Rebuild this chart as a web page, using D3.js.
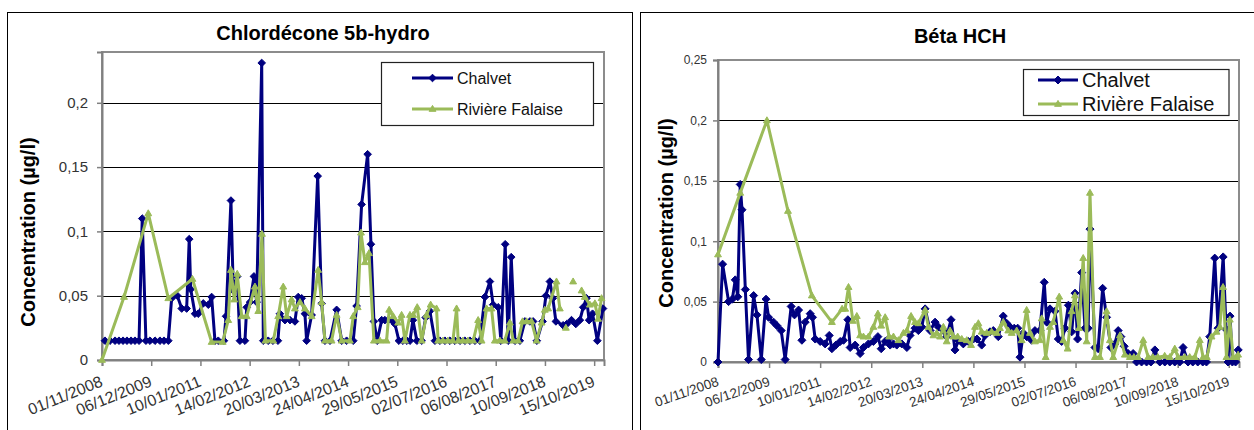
<!DOCTYPE html>
<html><head><meta charset="utf-8">
<script src="https://cdn.jsdelivr.net/npm/d3@7"></script>
<style>body{margin:0;background:#fff}svg{display:block}</style>
</head><body>
<svg id="c" width="1254" height="430"></svg>
<script>
// ---------- DATA ----------
const xDomain = ["2008-11-01", "2020-01-03"];
const xTickLabels = ["01/11/2008","06/12/2009","10/01/2011","14/02/2012","20/03/2013","24/04/2014","29/05/2015","02/07/2016","06/08/2017","10/09/2018","15/10/2019"];
const seriesNames = ["Chalvet", "Rivière Falaise"];

const leftTitle = "Chlordécone 5b-hydro";
const leftYTicks = [0, 0.05, 0.1, 0.15, 0.2];
const leftYTickLabels = ["0", "0,05", "0,1", "0,15", "0,2"];
const leftChalvetDates = ["2008-11-25","2009-01-05","2009-02-15","2009-03-19","2009-04-21","2009-05-23","2009-06-25","2009-07-27","2009-08-29","2009-09-24","2009-10-24","2009-11-26","2010-01-06","2010-02-15","2010-03-20","2010-04-24","2010-05-21","2010-07-06","2010-08-11","2010-09-20","2010-10-11","2010-10-23","2010-11-27","2010-12-23","2011-02-02","2011-03-15","2011-04-11","2011-05-08","2011-06-04","2011-07-20","2011-08-06","2011-09-15","2011-10-04","2011-11-05","2011-11-27","2012-01-07","2012-01-21","2012-02-17","2012-03-20","2012-04-11","2012-05-22","2012-06-04","2012-07-14","2012-08-21","2012-10-01","2012-10-17","2012-11-27","2013-01-07","2013-02-16","2013-03-15","2013-04-12","2013-05-08","2013-05-22","2013-07-02","2013-08-20","2013-09-21","2013-10-18","2013-11-28","2014-01-21","2014-03-03","2014-04-12","2014-06-05","2014-07-02","2014-08-12","2014-09-30","2014-10-27","2014-11-20","2014-12-17","2015-01-22","2015-02-17","2015-03-16","2015-04-13","2015-05-10","2015-06-11","2015-07-14","2015-08-15","2015-09-09","2015-10-03","2015-11-04","2015-12-13","2016-01-15","2016-02-18","2016-03-30","2016-05-09","2016-06-19","2016-07-30","2016-09-08","2016-10-19","2016-11-28","2017-01-08","2017-02-18","2017-03-30","2017-05-10","2017-06-20","2017-07-16","2017-08-26","2017-09-17","2017-10-22","2017-11-15","2017-12-10","2018-01-09","2018-02-18","2018-03-31","2018-05-11","2018-06-06","2018-07-06","2018-08-22","2018-09-18","2018-10-20","2018-11-13","2018-12-08","2019-02-05","2019-03-07","2019-04-14","2019-05-19","2019-06-21","2019-07-18","2019-08-14","2019-09-04","2019-10-02","2019-11-10","2019-12-26"];
const leftChalvetValues = [0.015,0.015,0.015,0.015,0.015,0.015,0.015,0.015,0.015,0.110,0.015,0.015,0.015,0.015,0.015,0.015,0.048,0.050,0.040,0.040,0.094,0.055,0.036,0.036,0.044,0.043,0.049,0.015,0.015,0.015,0.034,0.124,0.054,0.065,0.015,0.015,0.041,0.045,0.065,0.045,0.231,0.015,0.015,0.015,0.015,0.036,0.031,0.031,0.030,0.049,0.048,0.036,0.015,0.035,0.143,0.044,0.015,0.015,0.039,0.015,0.015,0.015,0.042,0.121,0.160,0.090,0.030,0.015,0.031,0.031,0.031,0.031,0.028,0.015,0.015,0.015,0.015,0.031,0.015,0.015,0.033,0.038,0.015,0.015,0.015,0.015,0.015,0.015,0.015,0.015,0.015,0.015,0.049,0.061,0.043,0.041,0.015,0.090,0.015,0.080,0.015,0.015,0.030,0.030,0.030,0.015,0.030,0.050,0.061,0.048,0.030,0.027,0.028,0.031,0.028,0.031,0.041,0.048,0.031,0.036,0.015,0.040];
const leftFalaiseDates = ["2008-11-01","2009-04-29","2009-11-12","2010-04-24","2010-11-06","2011-04-11","2011-07-10","2011-08-24","2011-09-15","2011-10-12","2011-11-05","2011-12-11","2012-01-21","2012-03-28","2012-04-24","2012-05-24","2012-06-21","2012-08-24","2012-10-03","2012-11-13","2012-12-11","2013-01-20","2013-02-16","2013-03-29","2013-05-08","2013-07-02","2013-08-24","2013-09-21","2013-10-18","2013-12-11","2014-01-21","2014-03-03","2014-05-09","2014-06-05","2014-07-11","2014-08-07","2014-09-08","2014-10-11","2014-11-20","2015-01-08","2015-03-03","2015-03-24","2015-04-26","2015-06-05","2015-07-03","2015-07-30","2015-09-09","2015-10-05","2015-11-07","2015-12-13","2016-01-22","2016-02-24","2016-04-12","2016-04-25","2016-06-03","2016-07-13","2016-08-23","2016-09-22","2016-10-05","2016-11-12","2016-12-23","2017-02-04","2017-03-16","2017-04-13","2017-05-24","2017-07-03","2017-07-30","2017-09-09","2017-10-19","2017-11-29","2017-12-26","2018-02-04","2018-03-12","2018-04-14","2018-05-24","2018-07-04","2018-08-14","2018-09-09","2018-10-06","2018-12-13","2019-01-09","2019-02-10","2019-02-27","2019-03-20","2019-04-27","2019-06-01","2019-07-05","2019-07-31","2019-09-10","2019-10-21","2019-11-16","2019-12-14"];
const leftFalaiseValues = [0.0,0.049,0.114,0.048,0.063,0.014,0.014,0.031,0.070,0.047,0.067,0.034,0.034,0.057,0.038,0.098,0.015,0.015,0.034,0.057,0.034,0.047,0.040,0.045,0.040,0.034,0.070,0.045,0.015,0.015,0.035,0.015,0.015,0.034,0.041,0.099,0.076,0.083,0.015,0.015,0.015,0.039,0.034,0.029,0.035,0.015,0.035,0.035,0.041,0.015,0.035,0.043,0.040,0.015,0.015,0.015,0.015,0.040,0.015,0.015,0.015,0.015,0.031,0.015,0.040,0.040,0.015,0.015,0.015,0.029,0.015,0.015,0.030,0.030,0.030,0.015,0.029,0.039,0.040,0.061,0.040,null,0.025,null,0.061,null,0.054,0.049,0.043,0.044,0.032,0.048];

const rightTitle = "Béta HCH";
const rightYTicks = [0, 0.05, 0.1, 0.15, 0.2, 0.25];
const rightYTickLabels = ["0", "0,05", "0,1", "0,15", "0,2", "0,25"];
const rightChalvetDates = ["2008-11-01","2008-12-07","2009-01-23","2009-02-21","2009-03-16","2009-04-05","2009-04-24","2009-05-08","2009-06-03","2009-06-28","2009-08-07","2009-09-02","2009-10-06","2009-11-12","2009-12-02","2010-01-10","2010-02-06","2010-03-11","2010-04-11","2010-05-28","2010-06-23","2010-07-25","2010-08-20","2010-09-15","2010-10-24","2010-11-11","2010-12-02","2011-01-10","2011-02-18","2011-03-22","2011-04-12","2011-05-13","2011-06-16","2011-07-12","2011-08-15","2011-09-02","2011-10-11","2011-11-19","2011-12-15","2012-01-23","2012-03-02","2012-04-06","2012-05-02","2012-06-02","2012-06-28","2012-07-11","2012-08-06","2012-09-01","2012-10-10","2012-11-19","2012-12-14","2013-01-22","2013-02-17","2013-03-16","2013-04-11","2013-05-20","2013-06-28","2013-07-24","2013-09-01","2013-09-27","2013-10-31","2013-12-01","2013-12-27","2014-02-04","2014-03-15","2014-04-24","2014-05-22","2014-06-28","2014-07-24","2014-09-01","2014-09-27","2014-11-05","2014-12-14","2015-01-10","2015-02-05","2015-03-10","2015-04-06","2015-04-24","2015-05-20","2015-06-15","2015-07-24","2015-08-19","2015-09-27","2015-10-31","2015-11-19","2015-12-15","2016-01-23","2016-02-18","2016-03-15","2016-04-10","2016-05-07","2016-06-02","2016-06-28","2016-07-18","2016-08-19","2016-09-14","2016-10-09","2016-10-23","2016-12-01","2016-12-26","2017-01-30","2017-03-02","2017-04-05","2017-05-06","2017-06-01","2017-06-22","2017-07-18","2017-08-18","2017-09-26","2017-10-23","2017-12-01","2018-01-09","2018-02-12","2018-03-15","2018-04-23","2018-06-01","2018-07-10","2018-08-18","2018-09-26","2018-10-22","2018-11-30","2019-01-06","2019-02-14","2019-03-25","2019-04-23","2019-05-19","2019-06-27","2019-07-23","2019-09-01","2019-09-24","2019-10-09","2019-10-25","2019-11-12","2019-12-07","2019-12-28"];
const rightChalvetValues = [0.0,0.081,0.050,0.052,0.068,0.054,0.147,0.126,0.060,0.002,0.055,0.039,0.002,0.052,0.037,0.033,0.030,0.026,0.002,0.046,0.039,0.043,0.018,0.033,0.040,0.037,0.019,0.017,0.015,0.022,0.011,0.014,0.017,0.018,0.035,0.012,0.014,0.007,0.012,0.015,0.017,0.021,0.011,0.017,0.019,0.014,0.015,0.014,0.015,0.012,0.022,0.028,0.026,0.029,0.044,0.026,0.033,0.029,0.026,0.021,0.035,0.010,0.018,0.015,0.017,0.019,0.019,0.014,0.022,0.025,0.026,0.021,0.038,0.032,0.029,0.028,0.028,0.004,0.024,0.021,0.018,0.026,0.026,0.066,0.033,0.044,0.042,0.019,0.017,0.028,0.047,0.025,0.057,0.019,0.074,0.028,0.028,0.110,0.012,0.011,0.061,0.037,0.012,0.015,0.026,0.021,0.013,0.007,0.007,0.0,0.0,0.0,0.0,0.010,0.0,0.0,0.0,0.0,0.0,0.012,0.0,0.0,0.0,0.0,0.0,0.021,0.086,0.028,0.087,0.027,0.0,0.038,0.0,0.0,0.010];
const rightFalaiseDates = ["2008-11-01","2009-04-24","2009-11-19","2010-05-03","2010-11-06","2011-04-12","2011-07-01","2011-07-25","2011-08-20","2011-09-23","2011-10-24","2011-11-19","2011-12-15","2012-01-23","2012-03-02","2012-04-06","2012-05-02","2012-06-02","2012-07-03","2012-08-06","2012-09-14","2012-10-23","2012-11-19","2012-12-22","2013-01-22","2013-02-17","2013-04-11","2013-05-07","2013-06-15","2013-07-11","2013-08-06","2013-09-01","2013-09-27","2013-10-23","2013-11-18","2013-12-22","2014-01-23","2014-03-03","2014-04-06","2014-05-07","2014-06-02","2014-06-28","2014-08-06","2014-09-14","2014-10-24","2014-11-18","2014-12-14","2015-01-22","2015-02-18","2015-03-29","2015-05-07","2015-06-15","2015-07-11","2015-08-19","2015-09-27","2015-10-11","2015-11-11","2015-12-15","2016-01-09","2016-02-25","2016-03-28","2016-05-01","2016-06-01","2016-06-27","2016-07-29","2016-08-31","2016-09-27","2016-10-23","2016-12-01","2017-01-09","2017-03-02","2017-03-28","2017-04-23","2017-06-15","2017-07-23","2017-08-31","2017-10-02","2017-11-04","2017-12-14","2018-01-22","2018-02-27","2018-04-07","2018-05-31","2018-07-10","2018-08-18","2018-09-13","2018-11-04","2018-12-13","2019-01-22","2019-03-02","2019-03-28","2019-04-26","2019-06-02","2019-07-11","2019-08-06","2019-08-31","2019-09-27","2019-10-23","2019-11-18","2019-12-15","2019-12-27"];
const rightFalaiseValues = [0.089,0.140,0.200,0.125,0.055,0.033,0.044,0.044,0.062,0.034,0.038,0.022,0.021,0.021,0.029,0.040,0.030,0.037,0.021,0.021,0.018,0.024,0.026,0.038,0.033,0.032,0.043,0.029,0.022,0.024,0.021,0.029,0.017,0.026,0.021,0.021,0.019,0.018,0.014,0.029,0.032,0.025,0.024,0.025,0.024,0.028,0.033,0.026,0.024,0.026,0.018,0.043,0.024,0.017,0.018,0.036,0.004,0.029,0.033,0.054,0.018,0.011,0.042,0.055,0.028,0.086,0.017,0.140,0.004,0.004,0.042,0.018,0.004,0.022,0.006,0.004,0.004,0.004,0.018,0.004,0.004,0.004,0.005,0.004,0.011,0.004,0.004,0.004,0.004,0.018,0.004,0.004,0.021,0.025,0.029,0.062,0.004,0.035,0.004,0.004,0.006];

// ---------- DRAWING ----------
const FONT = "Arial, 'Liberation Sans', sans-serif";
const NAVY = "#000080", GREEN = "#9BBB59";
const parseISO = d3.timeParse("%Y-%m-%d");
const parseTick = d3.timeParse("%d/%m/%Y");
const svg = d3.select("#c");
svg.append("rect").attr("width", 1254).attr("height", 430).attr("fill", "#fff");

// outer chart frames
svg.append("rect").attr("x", 7.5).attr("y", 12.5).attr("width", 625).attr("height", 440)
  .attr("fill", "none").attr("stroke", "#000").attr("stroke-width", 1);
svg.append("rect").attr("x", 640.5).attr("y", 12.5).attr("width", 640).attr("height", 440)
  .attr("fill", "none").attr("stroke", "#000").attr("stroke-width", 1);

const diamond = r => `M0,${-r}L${r},0L0,${r}L${-r},0Z`;
const triangle = r => `M0,${-r}L${r * 0.95},${r * 0.65}L${-r * 0.95},${r * 0.65}Z`;

function zip(dates, values) {
  return dates.map((d, i) => ({ date: parseISO(d), v: values[i] }));
}

function drawChart(o) {
  const g = svg.append("g");
  const x = d3.scaleTime().domain(xDomain.map(parseISO)).range([o.x0, o.x1]);
  const y = d3.scaleLinear().domain([0, o.yMax]).range([o.y1, o.y0]);

  // gridlines
  g.append("g").selectAll("line")
    .data(o.yTicks.filter(v => v > 0 && v < o.yMax - 1e-9))
    .join("line")
    .attr("x1", o.x0).attr("x2", o.x1)
    .attr("y1", d => Math.round(y(d)) + 0.5).attr("y2", d => Math.round(y(d)) + 0.5)
    .attr("stroke", "#000").attr("stroke-width", 1);

  // plot area border
  g.append("rect").attr("x", o.x0).attr("y", o.y0)
    .attr("width", o.x1 - o.x0).attr("height", o.y1 - o.y0)
    .attr("fill", "none").attr("stroke", "#8c8c8c").attr("stroke-width", 2);

  // y axis
  const ya = d3.axisLeft(y).tickValues(o.yTicks)
    .tickFormat((d, i) => o.yLabels[i]).tickSize(5).tickPadding(o.yPad);
  g.append("g").attr("transform", `translate(${o.x0},0)`).call(ya)
    .attr("font-family", FONT).attr("font-size", o.yFont)
    .call(s => {
      s.select(".domain").attr("stroke", "#808080").attr("stroke-width", 2);
      s.selectAll(".tick line").attr("stroke", "#808080").attr("stroke-width", 1.5);
      s.selectAll("text").attr("fill", "#333");
    });

  // x axis
  const tickDates = xTickLabels.map(parseTick);
  const xa = d3.axisBottom(x).tickValues(tickDates)
    .tickFormat((d, i) => xTickLabels[i]).tickSize(6);
  g.append("g").attr("transform", `translate(0,${o.y1})`).call(xa)
    .attr("font-family", FONT).attr("font-size", o.xFont)
    .call(s => {
      s.select(".domain").attr("stroke", "#808080").attr("stroke-width", 2);
      s.selectAll(".tick line").attr("stroke", "#808080").attr("stroke-width", 1.5);
      s.selectAll("text").attr("fill", "#333")
        .attr("x", 0).attr("y", 0).attr("dy", "0.72em")
        .attr("text-anchor", "end")
        .attr("transform", `translate(${o.xLabDx},${o.xLabDy}) rotate(${o.xAngle})`);
    });

  // series
  const series = [
    { data: zip(o.chalvetDates, o.chalvetValues), color: NAVY, marker: diamond(o.dia) },
    { data: zip(o.falaiseDates, o.falaiseValues), color: GREEN, marker: triangle(o.tri) }
  ];
  const line = d3.line().defined(d => d.v != null).x(d => x(d.date)).y(d => y(d.v));
  series.forEach(s => {
    const sg = g.append("g");
    sg.append("path").datum(s.data).attr("d", line)
      .attr("fill", "none").attr("stroke", s.color).attr("stroke-width", o.lw)
      .attr("stroke-linejoin", "round");
    sg.selectAll("path.m").data(s.data.filter(d => d.v != null)).join("path")
      .attr("class", "m").attr("d", s.marker)
      .attr("transform", d => `translate(${x(d.date)},${y(d.v)})`)
      .attr("fill", s.color).attr("stroke", s.color).attr("stroke-width", 1);
  });

  // title
  g.append("text").attr("x", o.titleX).attr("y", o.titleY).attr("text-anchor", "middle")
    .attr("font-family", FONT).attr("font-weight", "bold").attr("font-size", 20)
    .attr("fill", "#000").text(o.title);

  // y axis title
  g.append("text").attr("transform", `translate(${o.ytX},${o.ytY}) rotate(-90)`)
    .attr("text-anchor", "middle").attr("font-family", FONT).attr("font-weight", "bold")
    .attr("font-size", 20).attr("fill", "#000").text("Concentration (µg/l)");

  // legend
  const L = o.legend;
  g.append("rect").attr("x", L.x).attr("y", L.y).attr("width", L.w).attr("height", L.h)
    .attr("fill", "#fff").attr("stroke", "#222").attr("stroke-width", 1.2);
  [[NAVY, diamond(o.dia)], [GREEN, triangle(o.tri)]].forEach((c, i) => {
    const yy = L.rows[i];
    g.append("line").attr("x1", L.lx0).attr("x2", L.lx1).attr("y1", yy).attr("y2", yy)
      .attr("stroke", c[0]).attr("stroke-width", o.lw);
    g.append("path").attr("d", c[1])
      .attr("transform", `translate(${(L.lx0 + L.lx1) / 2},${yy})`)
      .attr("fill", c[0]).attr("stroke", c[0]);
    g.append("text").attr("x", L.tx).attr("y", yy).attr("dy", "0.36em")
      .attr("font-family", FONT).attr("font-size", L.font).attr("fill", "#111")
      .text(seriesNames[i]);
  });
}

drawChart({
  title: leftTitle, titleX: 323, titleY: 40,
  x0: 102, x1: 604, y0: 52, y1: 360, yMax: 0.2395,
  yTicks: leftYTicks, yLabels: leftYTickLabels, yFont: 15, yPad: 9,
  xFont: 16, xAngle: -22, xLabDx: -3, xLabDy: 15,
  ytX: 35, ytY: 232,
  chalvetDates: leftChalvetDates, chalvetValues: leftChalvetValues,
  falaiseDates: leftFalaiseDates, falaiseValues: leftFalaiseValues,
  lw: 3, dia: 3.8, tri: 3.6,
  legend: { x: 381.5, y: 62.5, w: 212, h: 63, rows: [78, 109], lx0: 412, lx1: 453, tx: 457, font: 16 }
});

drawChart({
  title: rightTitle, titleX: 960, titleY: 43,
  x0: 718, x1: 1239, y0: 60, y1: 362, yMax: 0.25,
  yTicks: rightYTicks, yLabels: rightYTickLabels, yFont: 12, yPad: 6,
  xFont: 13.5, xAngle: -19, xLabDx: -2, xLabDy: 14,
  ytX: 673, ytY: 213,
  chalvetDates: rightChalvetDates, chalvetValues: rightChalvetValues,
  falaiseDates: rightFalaiseDates, falaiseValues: rightFalaiseValues,
  lw: 3, dia: 4, tri: 3.6,
  legend: { x: 1023.5, y: 69.5, w: 205.5, h: 46, rows: [80, 104], lx0: 1038, lx1: 1078, tx: 1082, font: 20 }
});
</script>
</body></html>
